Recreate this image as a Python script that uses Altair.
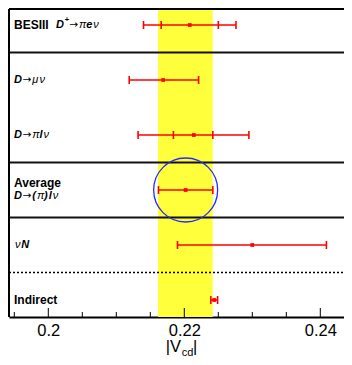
import altair as alt
import pandas as pd

# ---- data ----
row_index = [0, 1, 2, 3, 4, 5]
values = [0.2208, 0.2169, 0.2214, 0.2202, 0.2300, 0.2244]
tot_lo = [0.2140, 0.2119, 0.2132, 0.2162, 0.2190, 0.2239]
tot_hi = [0.2276, 0.2221, 0.2295, 0.2242, 0.2409, 0.2249]
stat_lo = [0.2166, None, 0.2184, None, None, None]
stat_hi = [0.2250, None, 0.2242, None, None, None]
band = [0.21613, 0.22418]
solid_seps = [0.5, 2.5, 3.5]
dotted_seps = [4.5]
major_ticks = [0.2, 0.22, 0.24]
minor_ticks = [0.195, 0.205, 0.21, 0.215, 0.225, 0.23, 0.235]
circle_row = [3]

W, H = 335, 308
OX = 9  # absolute page x of the plot's left edge
RED = "#ff0000"
FONT = "Liberation Sans"

xscale = alt.Scale(domain=[0.194221, 0.243485], nice=False, zero=False)
yscale = alt.Scale(domain=[-0.291, 5.309], reverse=True, nice=False, zero=False)
xaxis = alt.Axis(values=major_ticks, format=".2~f", tickSize=0, labelFontSize=16.5,
                 labelFont=FONT, labelColor="black", labelPadding=5,
                 domainColor="black", domainWidth=2, grid=False, title=None,
                 labelFlush=False)


def X(f):
    return alt.X(f, type="quantitative", scale=xscale, axis=xaxis)


def Y(f):
    return alt.Y(f, type="quantitative", scale=yscale, axis=None)


df = pd.DataFrame(dict(row=row_index, val=values, lo=tot_lo, hi=tot_hi,
                       slo=stat_lo, shi=stat_hi))
one = pd.DataFrame({"a": [0]})

band_layer = alt.Chart(pd.DataFrame({"lo": [band[0]], "hi": [band[1]]})).mark_rect(
    color="#ffff3c").encode(x=X("lo"), x2="hi", y=alt.value(0), y2=alt.value(H))

circle_layer = alt.Chart(df[df.row.isin(circle_row)]).mark_point(
    shape="circle", size=4096, filled=False, color="#2a2aff", strokeWidth=1.3,
    opacity=1).encode(x=X("val"), y=Y("row"))

sep_layer = alt.Chart(pd.DataFrame({"y": solid_seps})).mark_rule(
    color="#111111", strokeWidth=2).encode(
    y=Y("y"), x=alt.value(0), x2=alt.value(W))

dot_layer = alt.Chart(pd.DataFrame({"y": dotted_seps})).mark_rule(
    color="black", strokeWidth=1.5, strokeDash=[2, 2]).encode(
    y=Y("y"), x=alt.value(0), x2=alt.value(W))

top_border = alt.Chart(one).mark_rule(color="black", strokeWidth=2).encode(
    x=alt.value(0), x2=alt.value(W), y=alt.value(0))
left_border = alt.Chart(one).mark_rule(color="black", strokeWidth=2).encode(
    x=alt.value(0), y=alt.value(0), y2=alt.value(H))

major_layer = alt.Chart(pd.DataFrame({"t": major_ticks})).mark_rule(
    color="black", strokeWidth=1).encode(x=X("t"), y=alt.value(H), y2=alt.value(H - 9))
minor_layer = alt.Chart(pd.DataFrame({"t": minor_ticks})).mark_rule(
    color="black", strokeWidth=1).encode(x=X("t"), y=alt.value(H), y2=alt.value(H - 5))

err_layer = alt.Chart(df).mark_rule(color=RED, strokeWidth=1.6).encode(
    x=X("lo"), x2="hi", y=Y("row"))

cap_layer = alt.Chart(df).transform_fold(
    ["lo", "hi", "slo", "shi"], as_=["k", "v"]).transform_filter(
    "isValid(datum.v)").mark_tick(orient="vertical", size=8, thickness=1.6,
                                  color=RED, opacity=1).encode(x=X("v:Q"), y=Y("row"))

pt_layer = alt.Chart(df).mark_square(size=14, color=RED, opacity=1).encode(
    x=X("val"), y=Y("row"))

STYLES = {
    "b": dict(font=FONT, fontWeight="bold"),
    "bi": dict(font=FONT, fontWeight="bold", fontStyle="italic"),
    "i": dict(font=FONT, fontWeight="normal", fontStyle="italic"),
    "n": dict(font="DejaVu Sans", fontWeight="normal"),
}
# approximate advance widths (em) used only to place label pieces side by side
EM = {"D": 0.722, "e": 0.556, "l": 0.278, "N": 0.722, "(": 0.333, ")": 0.333,
      "+": 0.584, "→": 0.838, "π": 0.6, "ν": 0.52, "μ": 0.6}
GAP = {"bi": 0.9, "i": 0.6, "b": 0.4, "n": 0.7}


def seg(text, row, ax, style, dy=0, size=12):
    d = pd.DataFrame({"row": [row]})
    kw = dict(text=text, align="left", baseline="middle", fontSize=size,
              color="black", dy=dy, **STYLES[style])
    return alt.Chart(d).mark_text(**kw).encode(x=alt.value(ax - OX), y=Y("row"))


def formula(row, ax, pieces, dy=0):
    out = []
    for text, style, size, sdy in pieces:
        out.append(seg(text, row, ax, style, dy=dy + sdy, size=size))
        ax += EM[text] * size + GAP[style]
    return out


S = 11
arrow = ("→", "n", 10.5, 0)
L1, L2 = -7, 6
labels = (
    [seg("BESIII", 0, 14, "b")]
    + formula(0, 56, [("D", "bi", S, 0), ("+", "b", 7.5, -5), arrow,
                      ("π", "i", S, 0), ("e", "bi", S, 0), ("ν", "i", S, 0)])
    + formula(1, 14, [("D", "bi", S, 0), arrow, ("μ", "i", S, 0), ("ν", "i", S, 0)])
    + formula(2, 14, [("D", "bi", S, 0), arrow, ("π", "i", S, 0), ("l", "bi", S, 0),
                      ("ν", "i", S, 0)])
    + [seg("Average", 3, 14, "b", dy=L1)]
    + formula(3, 14, [("D", "bi", S, 0), arrow, ("(", "bi", S, 0), ("π", "i", S, 0),
                      (")", "bi", S, 0), ("l", "bi", S, 0), ("ν", "i", S, 0)], dy=L2)
    + formula(4, 15, [("ν", "i", S, 0), ("N", "bi", S, 0)])
    + [seg("Indirect", 5, 14, "b")]
)


def ttext(text, x, y, size):
    return alt.Chart(one).mark_text(text=text, align="left", baseline="alphabetic",
                                    font=FONT, fontSize=size, color="black").encode(
        x=alt.value(x), y=alt.value(y))


title = [ttext("|V", 156.7, H + 35, 16.5), ttext("cd", 172.7, H + 39, 11),
         ttext("|", 184, H + 35, 16.5)]

chart = alt.layer(
    band_layer, sep_layer, dot_layer, major_layer, minor_layer, circle_layer,
    err_layer, cap_layer, pt_layer, top_border, left_border, *labels, *title
).properties(
    width=W, height=H, autosize="none",
    padding={"left": 1, "top": 1, "right": 0, "bottom": 40}
).configure_view(stroke=None).configure(background="white")

chart.save("out.html", embed_options={"renderer": "svg", "actions": False})
